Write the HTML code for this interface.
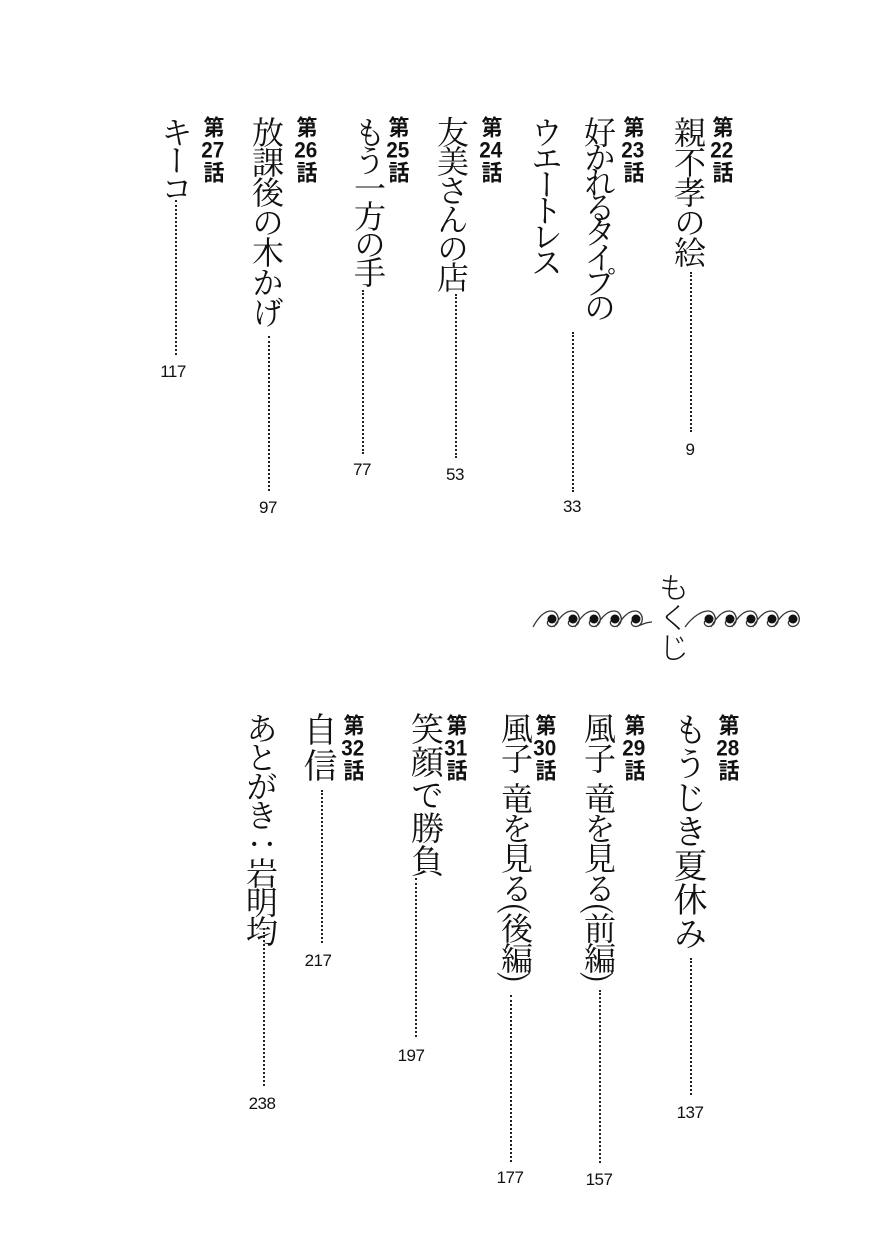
<!DOCTYPE html>
<html><head><meta charset="utf-8"><style>
html,body{margin:0;padding:0;background:#fff;}
body{width:869px;height:1241px;position:relative;overflow:hidden;}
.t{position:absolute;writing-mode:vertical-rl;font-family:"Noto Serif CJK JP","Noto Serif CJK SC",serif;font-size:32px;line-height:32px;letter-spacing:-2px;color:#111;white-space:nowrap;width:32px;}
.l{position:absolute;writing-mode:vertical-rl;font-family:"Liberation Sans","Noto Sans CJK JP",sans-serif;font-weight:bold;font-size:22px;line-height:22px;color:#111;width:22px;letter-spacing:1px;transform:scaleX(0.95);}
.l span{text-combine-upright:all;}
.d{position:absolute;width:0;border-left:2.5px dotted #222;}
.n{position:absolute;font-family:"Liberation Sans",sans-serif;font-size:17px;color:#111;transform:translateX(-50%);letter-spacing:-0.5px;}
.sp{display:inline-block;height:10px;}
</style></head><body>
<!-- top -->
<div class="l" style="left:710px;top:116px">第<span>22</span>話</div>
<div class="t" style="left:674px;top:116px">親不孝の絵</div>
<div class="d" style="left:690px;top:272px;height:160px"></div>
<div class="n" style="left:690px;top:440px">9</div>

<div class="l" style="left:621px;top:116px">第<span>23</span>話</div>
<div class="t" style="left:584px;top:116px;letter-spacing:-7px">好かれるタイプの</div>
<div class="t" style="left:531px;top:116px;letter-spacing:-6px">ウエートレス</div>
<div class="d" style="left:572px;top:332px;height:160px"></div>
<div class="n" style="left:572px;top:497px">33</div>

<div class="l" style="left:479px;top:116px">第<span>24</span>話</div>
<div class="t" style="left:437px;top:116px;letter-spacing:-3px">友美さんの店</div>
<div class="d" style="left:455px;top:294px;height:164px"></div>
<div class="n" style="left:455px;top:465px">53</div>

<div class="l" style="left:386px;top:116px">第<span>25</span>話</div>
<div class="t" style="left:354px;top:116px;letter-spacing:-4px">もう一方の手</div>
<div class="d" style="left:362px;top:290px;height:164px"></div>
<div class="n" style="left:362px;top:460px">77</div>

<div class="l" style="left:294px;top:116px">第<span>26</span>話</div>
<div class="t" style="left:252px;top:116px;letter-spacing:-2px">放課後の木かげ</div>
<div class="d" style="left:268px;top:336px;height:155px"></div>
<div class="n" style="left:268px;top:498px">97</div>

<div class="l" style="left:201px;top:116px">第<span>27</span>話</div>
<div class="t" style="left:161px;top:116px;letter-spacing:-4px">キーコ</div>
<div class="d" style="left:175px;top:200px;height:155px"></div>
<div class="n" style="left:173px;top:362px">117</div>

<!-- middle -->
<svg style="position:absolute;left:525px;top:600px" width="290" height="40" viewBox="0 0 290 40">
<g fill="none" stroke="#333" stroke-width="1.3">
<path d="M8 27 C14 16,20 11,26 11 C34 11,36 23,29 26 C24 28,20 23,24 20 M29 27 C35 16,41 11,47 11 C55 11,57 23,50 26 C45 28,41 23,45 20 M50 27 C56 16,62 11,68 11 C76 11,78 23,71 26 C66 28,62 23,66 20 M71 27 C77 16,83 11,89 11 C97 11,99 23,92 26 C87 28,83 23,87 20 M92 27 C98 16,104 11,110 11 C118 11,120 23,113 26 C108 28,104 23,108 20 M113 26 C118 24,122 22,127 22"/>
<path d="M160 27 C168 16,177 11,183 11 C191 11,193 23,186 26 C181 28,177 23,181 20 M186 27 C192 16,198 11,204 11 C212 11,214 23,207 26 C202 28,198 23,202 20 M207 27 C213 16,219 11,225 11 C233 11,235 23,228 26 C223 28,219 23,223 20 M228 27 C234 16,240 11,246 11 C254 11,256 23,249 26 C244 28,240 23,244 20 M249 27 C255 16,261 11,267 11 C275 11,277 23,270 26 C265 28,261 23,265 20"/>
</g>
<g fill="#111">
<circle cx="27" cy="19" r="4.5"/><circle cx="48" cy="19" r="4.5"/><circle cx="69" cy="19" r="4.5"/><circle cx="90" cy="19" r="4.5"/><circle cx="111" cy="19" r="4.5"/>
<circle cx="184" cy="19" r="4.5"/><circle cx="205" cy="19" r="4.5"/><circle cx="226" cy="19" r="4.5"/><circle cx="247" cy="19" r="4.5"/><circle cx="268" cy="19" r="4.5"/>
</g>
</svg>
<div class="t" style="left:657px;top:572px;font-size:30px;line-height:30px;letter-spacing:0px;font-family:'Noto Sans CJK JP',sans-serif;font-weight:300">もくじ</div>

<!-- bottom -->
<div class="l" style="left:716px;top:714px">第<span>28</span>話</div>
<div class="t" style="left:673px;top:712px;font-size:34px;line-height:34px;width:34px;letter-spacing:0px">もうじき夏休み</div>
<div class="d" style="left:690px;top:958px;height:137px"></div>
<div class="n" style="left:690px;top:1103px">137</div>

<div class="l" style="left:622px;top:714px">第<span>29</span>話</div>
<div class="t" style="left:584px;top:712px;letter-spacing:-2px">風子<span class="sp"> </span>竜を見る(前編)</div>
<div class="d" style="left:599px;top:990px;height:173px"></div>
<div class="n" style="left:599px;top:1170px">157</div>

<div class="l" style="left:533px;top:714px">第<span>30</span>話</div>
<div class="t" style="left:501px;top:712px;letter-spacing:-2px">風子<span class="sp"> </span>竜を見る(後編)</div>
<div class="d" style="left:510px;top:995px;height:167px"></div>
<div class="n" style="left:510px;top:1168px">177</div>

<div class="l" style="left:444px;top:714px">第<span>31</span>話</div>
<div class="t" style="left:411px;top:712px;font-size:33px;line-height:33px;width:33px;letter-spacing:0px">笑顔で勝負</div>
<div class="d" style="left:415px;top:878px;height:159px"></div>
<div class="n" style="left:411px;top:1046px">197</div>

<div class="l" style="left:341px;top:714px">第<span>32</span>話</div>
<div class="t" style="left:303px;top:712px;font-size:34px;line-height:34px;width:34px;letter-spacing:2px">自信</div>
<div class="d" style="left:321px;top:790px;height:153px"></div>
<div class="n" style="left:318px;top:951px">217</div>

<div class="t" style="left:246px;top:712px;letter-spacing:-3px">あとがき：岩明均</div>
<div class="d" style="left:263px;top:928px;height:158px"></div>
<div class="n" style="left:262px;top:1094px">238</div>
</body></html>
